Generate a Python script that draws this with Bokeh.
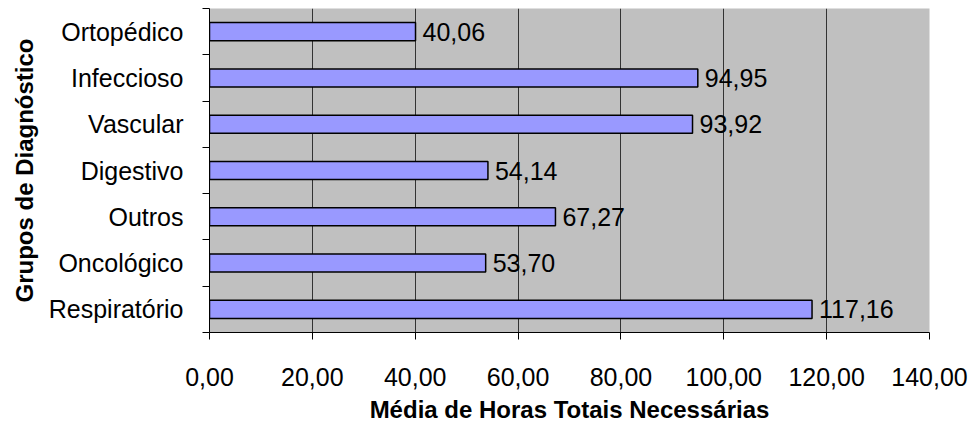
from bokeh.plotting import figure
from bokeh.models import Range1d, FixedTicker, ColumnDataSource
from bokeh.core.properties import value
from bokeh.embed import file_html
from bokeh.resources import INLINE

# Data (bottom to top)
categories = ["Respiratório", "Oncológico", "Outros", "Digestivo", "Vascular", "Infeccioso", "Ortopédico"]
values = [117.16, 53.70, 67.27, 54.14, 93.92, 94.95, 40.06]
x_ticks = [0, 20, 40, 60, 80, 100, 120, 140]
x_tick_labels = ["0,00", "20,00", "40,00", "60,00", "80,00", "100,00", "120,00", "140,00"]

n = len(categories)
centers = [i + 0.5 for i in range(n)]
bounds = list(range(n + 1))
labels = [f"{v:.2f}".replace(".", ",") for v in values]

src = ColumnDataSource(dict(y=centers, v=values, lab=labels))

FONT = "Liberation Sans"

p = figure(width=973, height=430, output_backend="svg", toolbar_location=None,
           x_range=Range1d(0, 140), y_range=Range1d(0, n),
           min_border_left=209, min_border_right=44, min_border_top=8, min_border_bottom=98)
p.background_fill_color = "#C0C0C0"
p.border_fill_color = "white"
p.outline_line_color = None

p.hbar(y="y", left=0, right="v", height=0.39, source=src,
       fill_color="#9999FF", line_color="black", line_width=1.5)
p.text(x="v", y="y", text="lab", source=src, x_offset=7,
       text_font=value(FONT), text_font_size="25px", text_baseline="middle",
       text_align="left", text_color="black")

# grids
p.xgrid.ticker = FixedTicker(ticks=x_ticks)
p.xgrid.grid_line_color = "#333333"
p.xgrid.grid_line_width = 1
p.ygrid.grid_line_color = None

# x axis
xa = p.xaxis[0]
xa.ticker = FixedTicker(ticks=x_ticks)
xa.major_label_overrides = {t: l for t, l in zip(x_ticks, x_tick_labels)}
xa.major_tick_out = 7
xa.major_tick_in = 0
xa.minor_tick_out = 0
xa.minor_tick_in = 0
xa.axis_line_color = "black"
xa.major_tick_line_color = "black"
xa.major_label_text_font = FONT
xa.major_label_text_font_size = "25px"
xa.major_label_text_color = "black"
xa.major_label_standoff = 28
xa.axis_label = "Média de Horas Totais Necessárias"
xa.axis_label_text_font = FONT
xa.axis_label_text_font_size = "24px"
xa.axis_label_text_font_style = "bold"
xa.axis_label_text_color = "black"
xa.axis_label_standoff = 7

# y axis
ya = p.yaxis[0]
ya.ticker = FixedTicker(ticks=centers, minor_ticks=bounds)
ya.major_label_overrides = {c: l for c, l in zip(centers, categories)}
ya.major_tick_out = 0
ya.major_tick_in = 0
ya.minor_tick_out = 7
ya.minor_tick_in = 0
ya.minor_tick_line_color = "black"
ya.axis_line_color = "black"
ya.major_label_text_font = FONT
ya.major_label_text_font_size = "25px"
ya.major_label_text_color = "black"
ya.major_label_standoff = 19
ya.axis_label = "Grupos de Diagnóstico"
ya.axis_label_text_font = FONT
ya.axis_label_text_font_size = "24px"
ya.axis_label_text_font_style = "bold"
ya.axis_label_text_color = "black"
ya.axis_label_standoff = 8

open("out.html", "w").write(file_html(p, INLINE))
